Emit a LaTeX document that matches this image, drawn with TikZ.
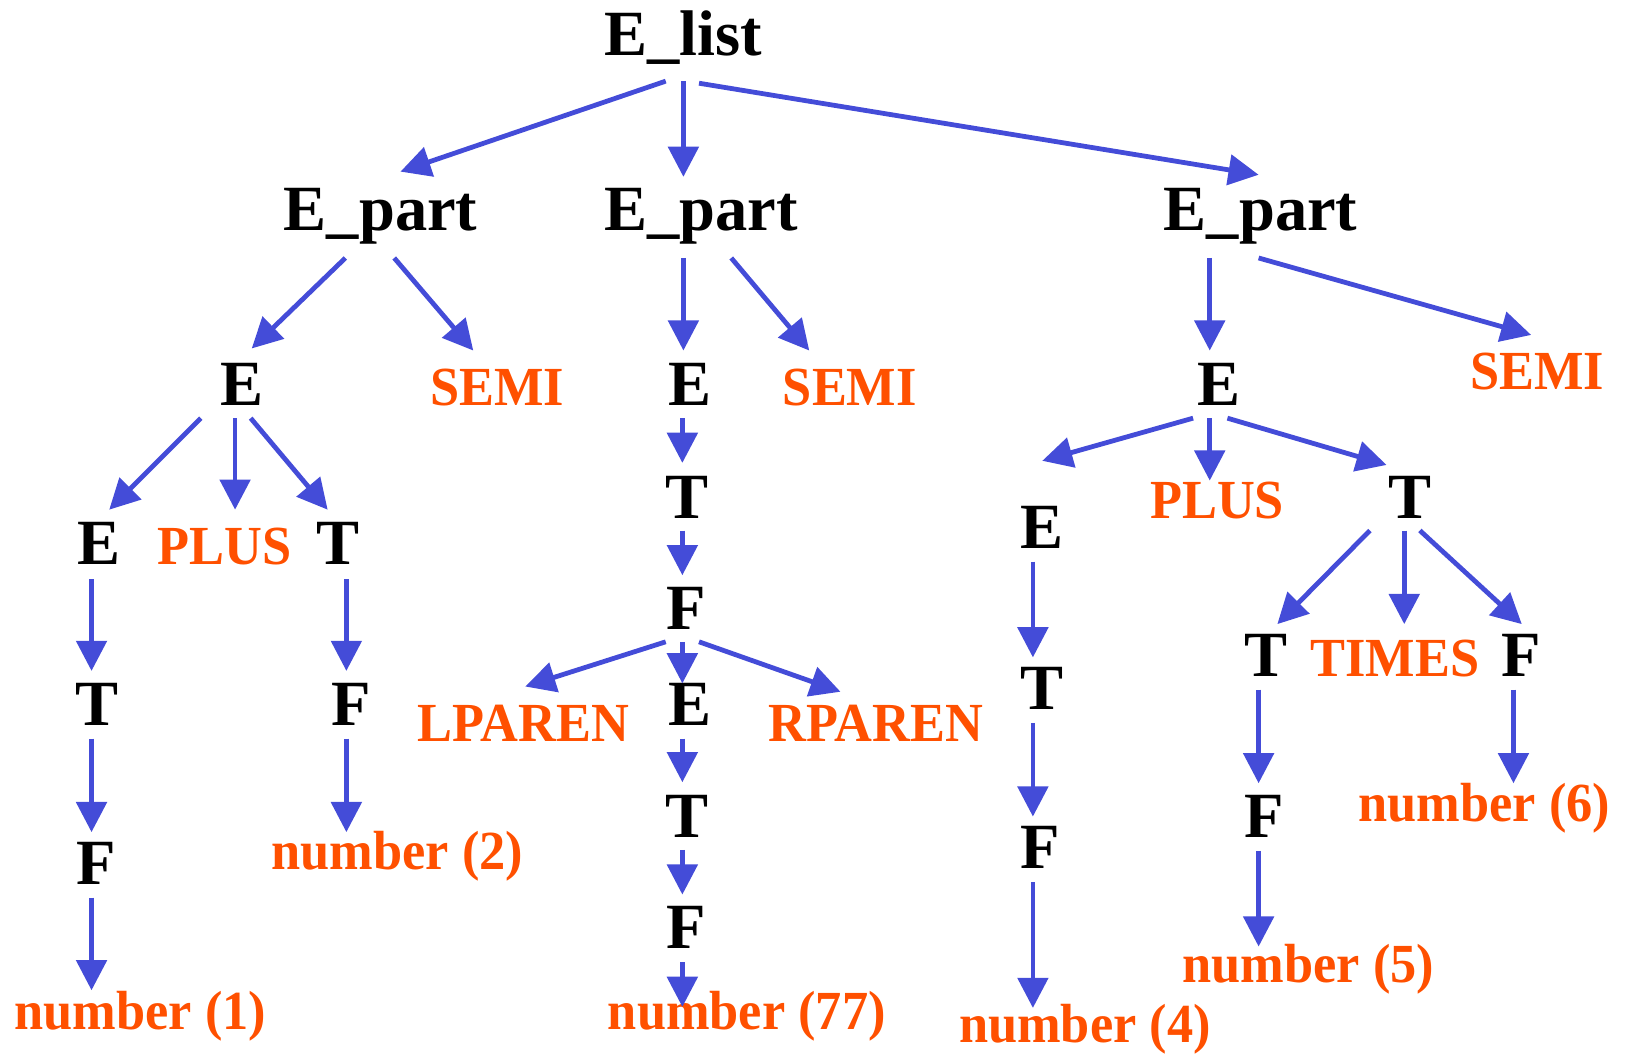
\documentclass[tikz,border=0pt]{standalone}
\usepackage{fontspec}
\setmainfont{Liberation Serif}
\newfontfamily\tokfont{Liberation Serif}[FakeStretch=0.95]
\usetikzlibrary{arrows.meta,calc}

\definecolor{edgeblue}{RGB}{68,76,216}
\definecolor{tokorange}{RGB}{255,80,0}

\tikzset{
  nt/.style={inner sep=0pt, anchor=base, text=black,
    font=\bfseries\fontsize{62}{62}\selectfont},
  tok/.style={inner sep=0pt, anchor=base, text=tokorange,
    font=\tokfont\bfseries\fontsize{53}{53}\selectfont},
  edge/.style={draw=edgeblue, line width=4.6pt,
    -{Triangle[length=29pt,width=29pt,fill=edgeblue]}, shorten >=0pt}
}

% \link{from}{dx}{dy}{to}{dx}{dy}: arrow between points offset from two nodes' baselines
\newcommand{\link}[6]{%
  \draw[edge] ($(#1.base)+(#2,#3)$) -- ($(#4.base)+(#5,#6)$);}

\begin{document}
\begin{tikzpicture}[x=1pt,y=-1pt]
\useasboundingbox (0,0) rectangle (1568,1013);

% nonterminals
\node[nt] (elist) at (657,53)  {E\_list};
\node[nt] (ep1)   at (366,222) {E\_part};
\node[nt] (ep2)   at (674,222) {E\_part};
\node[nt] (ep3)   at (1212,222) {E\_part};
\node[nt] (e1)    at (233,390) {E};
\node[nt] (e2)    at (663,390) {E};
\node[nt] (e3)    at (1172,390) {E};
\node[nt] (e11)   at (95,543)  {E};
\node[nt] (t12)   at (325,543) {T};
\node[nt] (t11)   at (93,697)  {T};
\node[nt] (f11)   at (92,850)  {F};
\node[nt] (f12)   at (338,697) {F};
\node[nt] (t2)    at (660,498) {T};
\node[nt] (f2)    at (660,605) {F};
\node[nt] (e22)   at (663,697) {E};
\node[nt] (t22)   at (660,805) {T};
\node[nt] (f22)   at (660,912) {F};
\node[nt] (e31)   at (1002,527) {E};
\node[nt] (t32)   at (1356,498) {T};
\node[nt] (t31)   at (1002,682) {T};
\node[nt] (f31)   at (1000,835) {F};
\node[nt] (t321)  at (1217,650) {T};
\node[nt] (f322)  at (1462,650) {F};
\node[nt] (f321)  at (1215,805) {F};

% tokens
\node[tok] (semi1)  at (478,390)  {SEMI};
\node[tok] (semi2)  at (817,390)  {SEMI};
\node[tok] (semi3)  at (1478,374) {SEMI};
\node[tok] (plus1)  at (216,543)  {PLUS};
\node[tok] (num1)   at (135,990)  {number (1)};
\node[tok] (num2)   at (382,836)  {number (2)};
\node[tok] (lparen) at (503,713)  {LPAREN};
\node[tok] (rparen) at (842,713)  {RPAREN};
\node[tok] (num77)  at (718,990)  {number (77)};
\node[tok] (plus3)  at (1170,498) {PLUS};
\node[tok] (num4)   at (1043,1002) {number (4)};
\node[tok] (times)  at (1341,650) {TIMES};
\node[tok] (num5)   at (1258,945) {number (5)};
\node[tok] (num6)   at (1427,790) {number (6)};

% edges
\link{elist}{-17}{25}{ep1}{19}{-57}
\link{elist}{0}{25}{ep2}{-17}{-52}
\link{elist}{15}{27}{ep3}{-2}{-54}
\link{ep1}{-34}{26}{e1}{9}{-55}
\link{ep1}{13}{26}{semi1}{-23}{-53}
\link{ep2}{-17}{26}{e2}{-6}{-53}
\link{ep2}{29}{26}{semi2}{-39}{-53}
\link{ep3}{-49}{26}{e3}{-9}{-53}
\link{ep3}{-2}{26}{semi3}{-6}{-52}
\link{e1}{-40}{12}{e11}{10}{-53}
\link{e1}{-7}{12}{plus1}{10}{-53}
\link{e1}{8}{12}{t12}{-10}{-53}
\link{e11}{-7}{14}{t11}{-5}{-52}
\link{t11}{-5}{13}{f11}{-4}{-50}
\link{f11}{-4}{13}{num1}{-47}{-38}
\link{t12}{8}{14}{f12}{-5}{-52}
\link{f12}{-5}{13}{num2}{-49}{-36}
\link{e2}{-7}{12}{t2}{-4}{-53}
\link{t2}{-4}{12}{f2}{-4}{-52}
\link{f2}{-20}{12}{lparen}{2}{-53}
\link{f2}{-4}{12}{e22}{-7}{-40}
\link{f2}{12}{12}{rparen}{-34}{-48}
\link{e22}{-7}{13}{t22}{-4}{-53}
\link{t22}{-4}{12}{f22}{-4}{-52}
\link{f22}{-4}{13}{num77}{-62}{-22}
\link{e3}{-25}{12}{e31}{0}{-84}
\link{e3}{-9}{12}{plus3}{-7}{-36}
\link{e3}{8}{12}{t32}{-23}{-51}
\link{e31}{-9}{13}{t31}{-9}{-50}
\link{t31}{-9}{13}{f31}{-7}{-50}
\link{f31}{-7}{13}{num4}{-50}{-33}
\link{t32}{-39}{12}{t321}{11}{-50}
\link{t32}{-6}{12}{times}{9}{-50}
\link{t32}{9}{12}{f322}{1}{-50}
\link{t321}{-7}{13}{f321}{-5}{-52}
\link{f321}{-5}{13}{num5}{-48}{-35}
\link{f322}{-7}{13}{num6}{28}{-37}
\end{tikzpicture}
\end{document}
